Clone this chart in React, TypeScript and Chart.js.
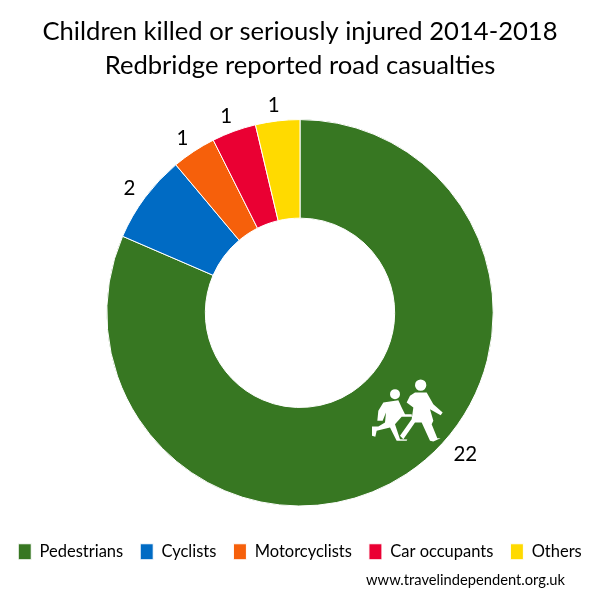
import React, { useEffect, useRef } from "react";
import { Chart, registerables } from "chart.js";

Chart.register(...registerables);

const categories = ["Pedestrians", "Cyclists", "Motorcyclists", "Car occupants", "Others"];
const casualties = [22, 2, 1, 1, 1];
const colours = ["#377722", "#006BC4", "#F6600B", "#EA0033", "#FFDA00"];
const titleLines = ["Children killed or seriously injured 2014-2018", "Redbridge reported road casualties"];
const footerText = "www.travelindependent.org.uk";
const FONT = "Lato, Carlito, 'Open Sans', sans-serif";

const leftFigure = "M100 125 L145 118 L155 140 L165 160 L185 160 L186 168 L155 168 L135 190 L150 235 L172 236 L170 240 L140 240 L120 200 L80 210 L76 228 L66 225 L66 197 L85 197 L105 185 L108 155 L98 180 L82 180 L85 150 Z";
const rightFigure = "M195 95 L230 95 L250 130 L278 155 L272 163 L240 145 L250 180 L245 190 L262 232 L272 232 L250 242 L240 240 L215 185 L195 185 L160 235 L150 225 L185 175 L190 140 L170 125 L180 105 Z";

const sliceLabels = {
  id: "sliceLabels",
  afterDatasetsDraw(chart: any) {
    const { ctx } = chart;
    const arcs = chart.getDatasetMeta(0).data;
    ctx.save();
    ctx.font = `20.5px ${FONT}`;
    ctx.fillStyle = "#000";
    ctx.textAlign = "center";
    ctx.textBaseline = "middle";
    arcs.forEach((arc: any, i: number) => {
      const mid = i === 0 ? arc.startAngle + (arc.endAngle - arc.startAngle) * 0.443 : (arc.startAngle + arc.endAngle) / 2;
      const r = arc.outerRadius + (i === 0 ? 25 : 17);
      ctx.fillText(String(casualties[i]), arc.x + Math.cos(mid) * r - 2, arc.y + Math.sin(mid) * r + 1.5);
    });
    // school-children sign on the pedestrians slice
    const a = arcs[0];
    const ox = a.x + 50;
    const oy = a.y + 48;
    ctx.translate(ox, oy);
    ctx.scale(1 / 3, 1 / 3);
    ctx.fillStyle = "#fff";
    ctx.fill(new Path2D(leftFigure));
    ctx.fill(new Path2D(rightFigure));
    ctx.beginPath();
    ctx.arc(135, 100, 15, 0, Math.PI * 2);
    ctx.arc(212, 73, 17, 0, Math.PI * 2);
    ctx.fill();
    ctx.restore();
    ctx.save();
    ctx.font = `14.7px ${FONT}`;
    ctx.fillStyle = "#000";
    ctx.textAlign = "right";
    ctx.textBaseline = "middle";
    ctx.fillText(footerText, 565, 580);
    ctx.restore();
  },
};

export default function App() {
  const ref = useRef<HTMLCanvasElement>(null);
  useEffect(() => {
    const chart = new Chart(ref.current!, {
      type: "doughnut",
      data: {
        labels: categories,
        datasets: [{ data: casualties, backgroundColor: colours, borderColor: "#fff", borderWidth: 1 }],
      },
      options: {
        responsive: false,
        animation: false,
        cutout: "49%",
        layout: { padding: { top: 15, bottom: 30 } },
        plugins: {
          title: {
            display: true,
            text: titleLines,
            color: "#000",
            font: { family: FONT, size: 25.6, weight: "normal", lineHeight: 1.33 },
            padding: { top: 0, bottom: 36 },
          },
          legend: {
            position: "bottom",
            title: { display: true, text: " ", font: { size: 10, lineHeight: 1.2 }, padding: { top: 0, bottom: 8 } },
            labels: {
              boxWidth: 13,
              boxHeight: 16,
              padding: 17,
              color: "#000",
              font: { family: FONT, size: 16.5 },
            },
          },
          tooltip: { enabled: false },
        },
      },
      plugins: [sliceLabels],
    });
    return () => chart.destroy();
  }, []);
  return (
    <canvas
      ref={ref}
      width={600}
      height={600}
      style={{ position: "absolute", left: 0, top: 0, width: 600, height: 600 }}
    />
  );
}
